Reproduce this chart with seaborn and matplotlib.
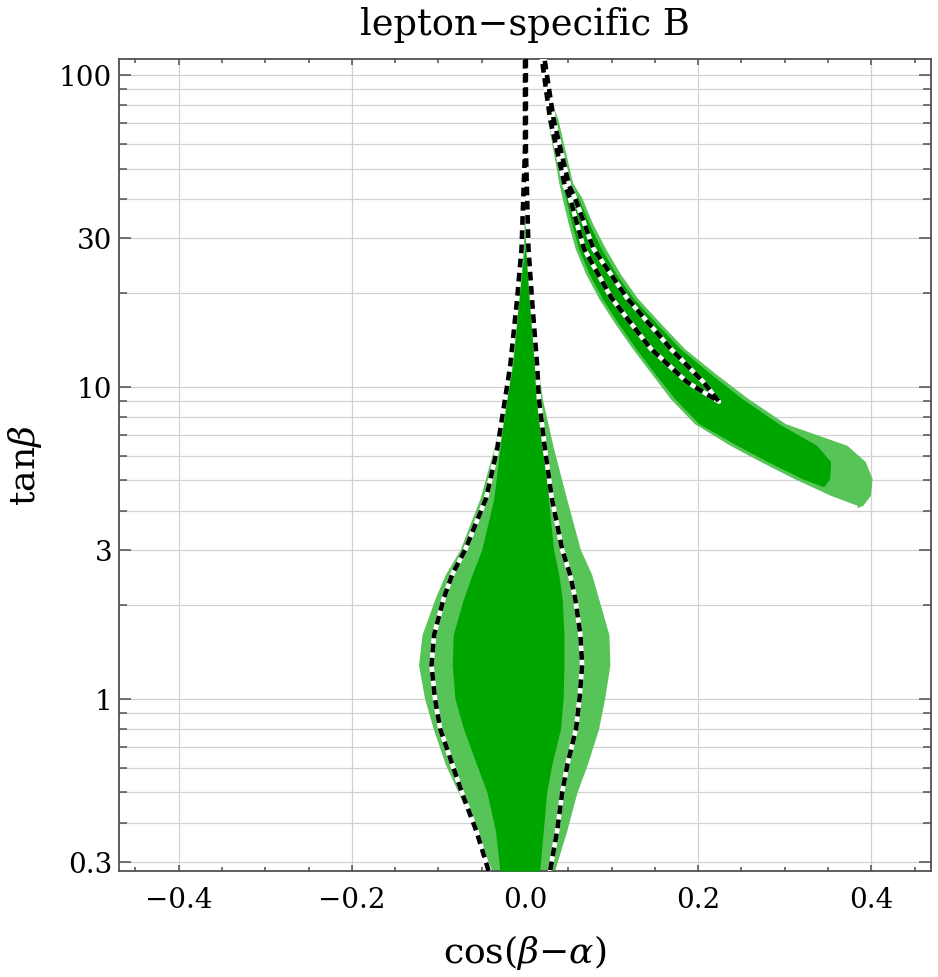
import matplotlib
matplotlib.use("Agg")
import matplotlib.pyplot as plt
import matplotlib.ticker as mticker
import pandas as pd
import seaborn as sns

# central band (tan beta going up), cos(beta-alpha) edges
tb_c = [0.28, 0.375, 0.5, 0.615, 0.8, 1.0, 1.28, 1.6, 2.09, 2.5, 3.0, 4.38, 6.33, 9.14, 11.7, 19.2, 27.7, 58, 120]
c_light_L = [-0.038, -0.058, -0.077, -0.092, -0.106, -0.116, -0.123, -0.119, -0.104, -0.092, -0.075, -0.052, -0.036, -0.024, -0.019, -0.010, -0.005, -0.002, -0.001]
c_light_R = [0.034, 0.048, 0.060, 0.072, 0.085, 0.092, 0.098, 0.097, 0.085, 0.077, 0.064, 0.048, 0.033, 0.020, 0.015, 0.008, 0.004, 0.002, 0.002]
c_dark_L = [-0.029, -0.034, -0.044, -0.056, -0.071, -0.081, -0.084, -0.083, -0.071, -0.061, -0.050, -0.036, -0.029, -0.021, -0.014, -0.007, 0.000, 0.001, 0.001]
c_dark_R = [0.017, 0.021, 0.025, 0.031, 0.041, 0.044, 0.045, 0.045, 0.043, 0.039, 0.033, 0.027, 0.022, 0.014, 0.012, 0.006, 0.002, 0.001, 0.001]
c_dash_L = [-0.042, -0.056, -0.073, -0.084, -0.098, -0.104, -0.108, -0.105, -0.094, -0.084, -0.069, -0.045, -0.032, -0.023, -0.017, -0.009, -0.004, 0.000, 0.000]
c_dash_R = [0.029, 0.037, 0.043, 0.049, 0.059, 0.063, 0.066, 0.064, 0.058, 0.052, 0.043, 0.031, 0.023, 0.016, 0.014, 0.008, 0.004, 0.001, 0.001]

# right arm (tan beta going down)
tb_a = [120, 91, 72, 45, 40.1, 33.3, 27.7, 23.0, 19.2, 15.9, 13.25, 11.0, 9.14, 7.6, 6.48, 5.75, 5.07, 4.48, 4.16, 4.09]
a_light_L = [0.018, 0.021, 0.026, 0.039, 0.043, 0.050, 0.058, 0.070, 0.085, 0.104, 0.124, 0.146, 0.168, 0.196, 0.237, 0.272, 0.311, 0.353, 0.384, 0.383]
a_light_R = [0.021, 0.024, 0.038, 0.055, 0.066, 0.078, 0.093, 0.110, 0.130, 0.157, 0.184, 0.220, 0.258, 0.301, 0.372, 0.393, 0.401, 0.399, 0.390, 0.383]
tb_ad = [120, 72, 45, 40.1, 33.3, 27.7, 23.0, 19.2, 15.9, 13.25, 11.0, 9.14, 7.6, 6.48, 5.75, 5.07, 4.77]
a_dark_L = [0.019, 0.029, 0.043, 0.047, 0.054, 0.062, 0.074, 0.089, 0.108, 0.128, 0.150, 0.173, 0.201, 0.245, 0.280, 0.320, 0.345]
a_dark_R = [0.020, 0.034, 0.050, 0.062, 0.074, 0.088, 0.105, 0.125, 0.152, 0.179, 0.214, 0.251, 0.293, 0.337, 0.353, 0.352, 0.345]

# dashed loop inside the right arm
tb_loop = [120, 72, 44, 40.1, 27.7, 19.2, 13.25, 10.35, 8.95]
loop_L = [0.018, 0.029, 0.046, 0.052, 0.068, 0.100, 0.145, 0.187, 0.224]
loop_R = [0.021, 0.033, 0.051, 0.058, 0.079, 0.118, 0.168, 0.206, 0.224]

y_ticks = [0.3, 1, 3, 10, 30, 100]
y_ticklabels = ["0.3", "1", "3", "10", "30", "100"]

light = "#56c456"
dark = "#00a600"

sns.set_theme(style="ticks")
plt.rcParams['font.family'] = ['DejaVu Serif']
plt.rcParams['mathtext.fontset'] = 'dejavuserif'
plt.rcParams['text.color'] = 'black'
plt.rcParams['axes.labelcolor'] = 'black'

fig = plt.figure(figsize=(9.38, 9.78), dpi=100)
ax = fig.add_axes([119 / 938, 106.3 / 978, 812 / 938, 811.7 / 978])
ax.set_yscale('log')

# filled regions
ax.fill_betweenx(tb_c, c_light_L, c_light_R, color=light, lw=0, zorder=2)
ax.fill_betweenx(tb_c, c_dark_L, c_dark_R, color=dark, lw=0, zorder=3)
ax.fill_betweenx(tb_a, a_light_L, a_light_R, color=light, lw=0, zorder=2)
ax.fill_betweenx(tb_ad, a_dark_L, a_dark_R, color=dark, lw=0, zorder=3)

# dashed contours
central = pd.DataFrame({"cba": c_dash_L + c_dash_R[::-1], "tanb": tb_c + tb_c[::-1]})
loop = pd.DataFrame({"cba": loop_L + loop_R[::-1], "tanb": tb_loop + tb_loop[::-1]})
for df in [central, loop]:
    sns.lineplot(data=df, x="cba", y="tanb", sort=False, estimator=None,
                 color="white", lw=3.3, ax=ax, zorder=4)
    sns.lineplot(data=df, x="cba", y="tanb", sort=False, estimator=None,
                 color="black", lw=3.3, linestyle=(0, (1.9, 1.2)), ax=ax, zorder=5)

ax.set_xlim(-0.469, 0.469)
ax.set_ylim(0.2806, 112.2)

ax.xaxis.set_major_locator(mticker.MultipleLocator(0.2))
ax.xaxis.set_minor_locator(mticker.MultipleLocator(0.05))
ax.yaxis.set_major_locator(mticker.FixedLocator(y_ticks))
ax.yaxis.set_major_formatter(mticker.FixedFormatter(y_ticklabels))
ax.yaxis.set_minor_locator(mticker.LogLocator(base=10, subs=range(1, 10)))
ax.yaxis.set_minor_formatter(mticker.NullFormatter())

ax.set_axisbelow(True)
ax.grid(True, which='major', axis='x', color='#d2d2d2', lw=0.9)
ax.grid(True, which='both', axis='y', color='#d2d2d2', lw=0.9)

for s in ax.spines.values():
    s.set_color('#505050')
    s.set_linewidth(1.3)
ax.tick_params(which='both', direction='in', top=True, right=True, color='#505050',
               width=1.1, labelcolor='black')
ax.tick_params(axis='x', which='major', length=4.5, pad=11, labelsize=20)
ax.tick_params(axis='x', which='minor', length=3)
ax.tick_params(axis='y', which='major', length=8.5, pad=5, labelsize=20)
ax.tick_params(axis='y', which='minor', length=5.5)

ax.set_xlabel(r"cos($\beta$$-$$\alpha$)", fontsize=26, labelpad=14)
ax.set_ylabel(r"tan$\beta$", fontsize=26, labelpad=11)
ax.set_title("lepton\u2212specific B", fontsize=26.5, pad=18)

fig.savefig("out.png", dpi=100)
